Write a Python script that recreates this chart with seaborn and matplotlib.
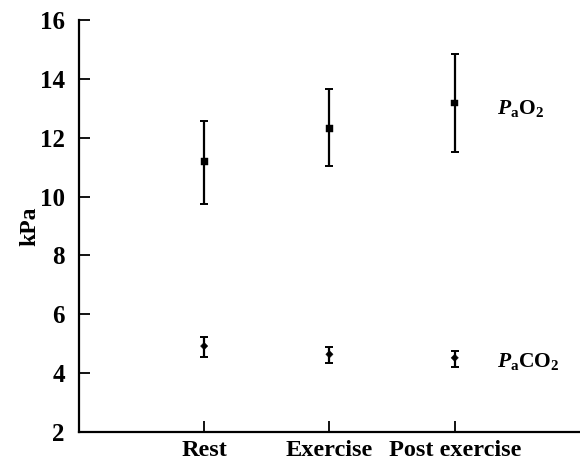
#!/usr/bin/env python3
"""Arterial blood gases at rest, during and after exercise"""

import matplotlib
matplotlib.use('Agg')
import matplotlib.pyplot as plt
import pandas as pd
import seaborn as sns

conditions = ['Rest', 'Exercise', 'Post exercise']

pao2_mean = [11.18, 12.32, 13.18]
pao2_low = [9.75, 11.05, 11.52]
pao2_high = [12.58, 13.64, 14.84]

paco2_mean = [4.92, 4.64, 4.52]
paco2_low = [4.54, 4.34, 4.22]
paco2_high = [5.22, 4.88, 4.76]

yticks = [2, 4, 6, 8, 10, 12, 14, 16]


# --------------------------------------------------
def main():
    sns.set_theme(style='ticks')
    plt.rcParams['font.family'] = ['Liberation Serif', 'DejaVu Serif']
    plt.rcParams['font.weight'] = 'bold'
    plt.rcParams['text.color'] = 'black'
    plt.rcParams['axes.labelcolor'] = 'black'
    plt.rcParams['mathtext.fontset'] = 'custom'
    plt.rcParams['mathtext.rm'] = 'Liberation Serif:bold'
    plt.rcParams['mathtext.it'] = 'Liberation Serif:italic:bold'
    plt.rcParams['mathtext.bf'] = 'Liberation Serif:bold'

    df = pd.DataFrame({
        'condition': conditions * 2,
        'value': pao2_mean + paco2_mean,
        'gas': ['PaO2'] * 3 + ['PaCO2'] * 3,
    })

    fig = plt.figure(figsize=(5.8, 4.65), dpi=100)
    ax = fig.add_axes([0.136, 0.071, 0.864, 0.886])

    x = list(range(len(conditions)))
    for mean, low, high in [(pao2_mean, pao2_low, pao2_high),
                            (paco2_mean, paco2_low, paco2_high)]:
        err = [[m - l for m, l in zip(mean, low)],
               [h - m for m, h in zip(mean, high)]]
        ax.errorbar(x, mean, yerr=err, fmt='none', ecolor='black',
                    elinewidth=1.6, capsize=3, capthick=1.4)

    sns.scatterplot(data=df, x='condition', y='value', style='gas',
                    markers={'PaO2': 's', 'PaCO2': 'D'},
                    size='gas', sizes={'PaO2': 24, 'PaCO2': 14},
                    color='black', edgecolor='black', legend=False, ax=ax,
                    zorder=3)

    ax.set_xlim(-1, 3)
    ax.set_ylim(2, 16)
    ax.set_xticks(x)
    ax.set_xticklabels(conditions)
    ax.set_yticks(yticks)
    ax.set_xlabel('')
    ax.set_ylabel('kPa', fontsize=17, fontweight='bold', labelpad=0)

    ax.tick_params(direction='in', length=8, width=1.3, labelsize=18,
                   colors='black')
    ax.tick_params(axis='x', labelsize=17.5, pad=6)
    ax.tick_params(axis='y', pad=10)

    sns.despine(ax=ax)
    for side in ['left', 'bottom']:
        ax.spines[side].set_linewidth(1.6)
        ax.spines[side].set_color('black')

    ax.text(2.34, 13.0, r'$P_{\mathbf{a}}\mathrm{O}_{\mathrm{2}}$',
            fontsize=15.5, va='center', ha='left')
    ax.text(2.34, 4.38, r'$P_{\mathbf{a}}\mathrm{CO}_{\mathrm{2}}$',
            fontsize=15.5, va='center', ha='left')

    fig.savefig('out.png', dpi=100)


# --------------------------------------------------
if __name__ == '__main__':
    main()
